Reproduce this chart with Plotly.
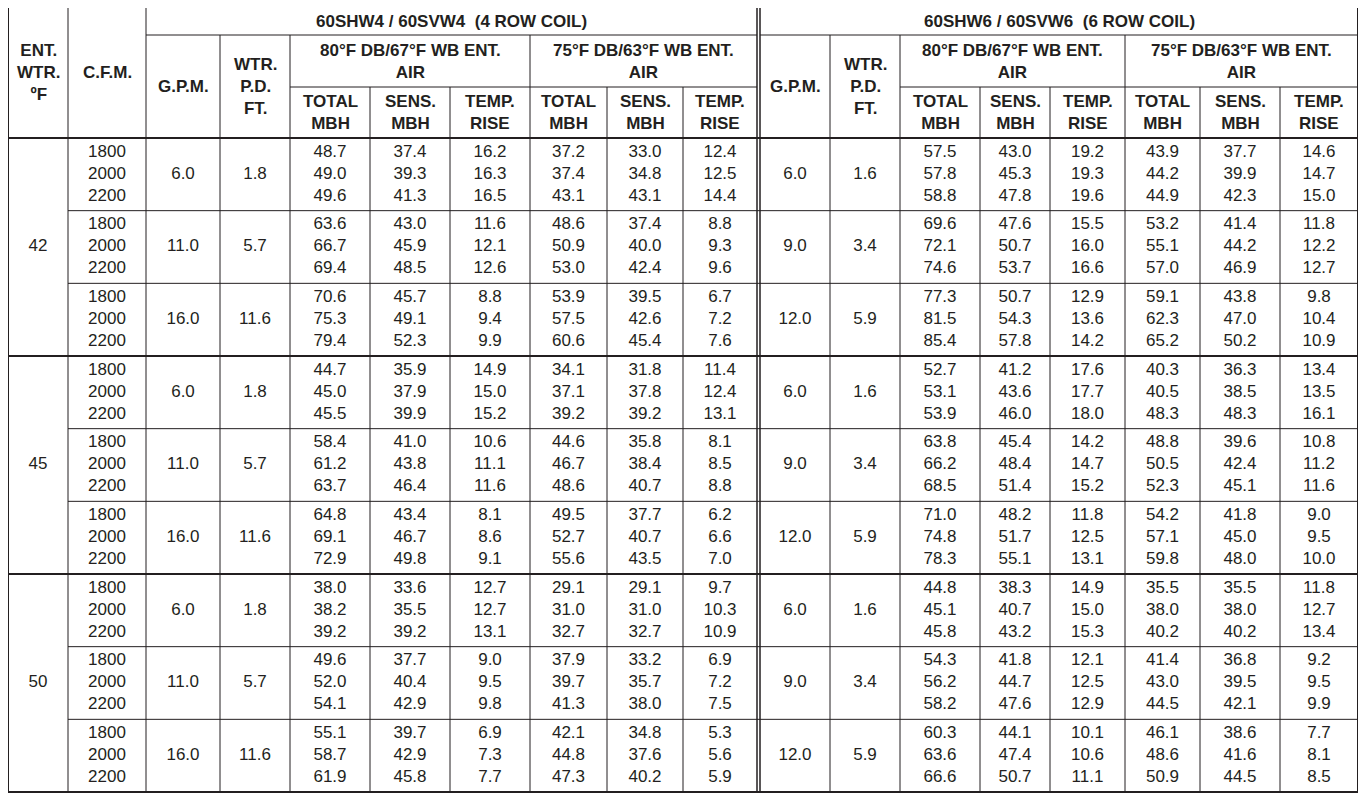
import plotly.graph_objects as go

ent_wtr = ["42", "45", "50"]
cfm = ["1800", "2000", "2200"]
gpm4 = ["6.0", "11.0", "16.0"]
pd4 = ["1.8", "5.7", "11.6"]
gpm6 = ["6.0", "9.0", "12.0"]
pd6 = ["1.6", "3.4", "5.9"]
sub_heads = ["TOTAL<br>MBH", "SENS.<br>MBH", "TEMP.<br>RISE"]

# 4 row coil: TOTAL, SENS, TEMP (80/67) then TOTAL, SENS, TEMP (75/63); 27 rows
row4 = [
    [48.7, 37.4, 16.2, 37.2, 33.0, 12.4], [49.0, 39.3, 16.3, 37.4, 34.8, 12.5], [49.6, 41.3, 16.5, 43.1, 43.1, 14.4],
    [63.6, 43.0, 11.6, 48.6, 37.4, 8.8], [66.7, 45.9, 12.1, 50.9, 40.0, 9.3], [69.4, 48.5, 12.6, 53.0, 42.4, 9.6],
    [70.6, 45.7, 8.8, 53.9, 39.5, 6.7], [75.3, 49.1, 9.4, 57.5, 42.6, 7.2], [79.4, 52.3, 9.9, 60.6, 45.4, 7.6],
    [44.7, 35.9, 14.9, 34.1, 31.8, 11.4], [45.0, 37.9, 15.0, 37.1, 37.8, 12.4], [45.5, 39.9, 15.2, 39.2, 39.2, 13.1],
    [58.4, 41.0, 10.6, 44.6, 35.8, 8.1], [61.2, 43.8, 11.1, 46.7, 38.4, 8.5], [63.7, 46.4, 11.6, 48.6, 40.7, 8.8],
    [64.8, 43.4, 8.1, 49.5, 37.7, 6.2], [69.1, 46.7, 8.6, 52.7, 40.7, 6.6], [72.9, 49.8, 9.1, 55.6, 43.5, 7.0],
    [38.0, 33.6, 12.7, 29.1, 29.1, 9.7], [38.2, 35.5, 12.7, 31.0, 31.0, 10.3], [39.2, 39.2, 13.1, 32.7, 32.7, 10.9],
    [49.6, 37.7, 9.0, 37.9, 33.2, 6.9], [52.0, 40.4, 9.5, 39.7, 35.7, 7.2], [54.1, 42.9, 9.8, 41.3, 38.0, 7.5],
    [55.1, 39.7, 6.9, 42.1, 34.8, 5.3], [58.7, 42.9, 7.3, 44.8, 37.6, 5.6], [61.9, 45.8, 7.7, 47.3, 40.2, 5.9],
]
# 6 row coil
row6 = [
    [57.5, 43.0, 19.2, 43.9, 37.7, 14.6], [57.8, 45.3, 19.3, 44.2, 39.9, 14.7], [58.8, 47.8, 19.6, 44.9, 42.3, 15.0],
    [69.6, 47.6, 15.5, 53.2, 41.4, 11.8], [72.1, 50.7, 16.0, 55.1, 44.2, 12.2], [74.6, 53.7, 16.6, 57.0, 46.9, 12.7],
    [77.3, 50.7, 12.9, 59.1, 43.8, 9.8], [81.5, 54.3, 13.6, 62.3, 47.0, 10.4], [85.4, 57.8, 14.2, 65.2, 50.2, 10.9],
    [52.7, 41.2, 17.6, 40.3, 36.3, 13.4], [53.1, 43.6, 17.7, 40.5, 38.5, 13.5], [53.9, 46.0, 18.0, 48.3, 48.3, 16.1],
    [63.8, 45.4, 14.2, 48.8, 39.6, 10.8], [66.2, 48.4, 14.7, 50.5, 42.4, 11.2], [68.5, 51.4, 15.2, 52.3, 45.1, 11.6],
    [71.0, 48.2, 11.8, 54.2, 41.8, 9.0], [74.8, 51.7, 12.5, 57.1, 45.0, 9.5], [78.3, 55.1, 13.1, 59.8, 48.0, 10.0],
    [44.8, 38.3, 14.9, 35.5, 35.5, 11.8], [45.1, 40.7, 15.0, 38.0, 38.0, 12.7], [45.8, 43.2, 15.3, 40.2, 40.2, 13.4],
    [54.3, 41.8, 12.1, 41.4, 36.8, 9.2], [56.2, 44.7, 12.5, 43.0, 39.5, 9.5], [58.2, 47.6, 12.9, 44.5, 42.1, 9.9],
    [60.3, 44.1, 10.1, 46.1, 38.6, 7.7], [63.6, 47.4, 10.6, 48.6, 41.6, 8.1], [66.6, 50.7, 11.1, 50.9, 44.5, 8.5],
]

INK = "#231f20"
FONT = "Liberation Sans, Arial, sans-serif"

# column edges (pixel units on the axes)
xs = [8, 68, 146, 220, 290, 370, 450, 530, 607, 683, 757,
      760, 830, 900, 980, 1050, 1125, 1200, 1280, 1358]
y_top, y_r1, y_r2, y_hb, y_bot = 7, 35, 87, 138, 792
blk = (y_bot - y_hb) / 9
yb = [y_hb + i * blk for i in range(10)]

def mid(a, b):
    return (xs[a] + xs[b]) / 2

cols4 = [mid(i, i + 1) for i in range(4, 10)]
cols6 = [mid(i, i + 1) for i in range(13, 19)]

fig = go.Figure()

# body text
tx, ty, tt = [], [], []
for r in range(27):
    b, k = divmod(r, 3)
    y = yb[b] + blk / 2 + (k - 1) * 22
    tx.append(mid(1, 2)); ty.append(y); tt.append(cfm[k])
    for c in range(6):
        tx.append(cols4[c]); ty.append(y); tt.append(f"{row4[r][c]:.1f}")
        tx.append(cols6[c]); ty.append(y); tt.append(f"{row6[r][c]:.1f}")
for b in range(9):
    y = yb[b] + blk / 2
    g = b % 3
    tx += [mid(2, 3), mid(3, 4), mid(11, 12), mid(12, 13)]
    ty += [y] * 4
    tt += [gpm4[g], pd4[g], gpm6[g], pd6[g]]
for i, e in enumerate(ent_wtr):
    tx.append(mid(0, 1)); ty.append((yb[3 * i] + yb[3 * i + 3]) / 2); tt.append(e)

fig.add_trace(go.Scatter(x=tx, y=ty, text=tt, mode="text", hoverinfo="skip",
                         textfont=dict(family=FONT, size=17, color=INK)))

ann = []
def head(x, y, s):
    ann.append(dict(x=x, y=y, text=f"<b>{s}</b>", showarrow=False, xref="x", yref="y",
                    font=dict(family=FONT, size=17, color=INK)))

head(mid(0, 1), (y_top + y_hb) / 2, "ENT.<br>WTR.<br>ºF")
head(mid(1, 2), (y_top + y_hb) / 2, "C.F.M.")
for off, name in [(0, "60SHW4 / 60SVW4  (4 ROW COIL)"), (9, "60SHW6 / 60SVW6  (6 ROW COIL)")]:
    a = 2 + off
    head((xs[a] + xs[a + 8]) / 2, (y_top + y_r1) / 2, name)
    head(mid(a, a + 1), (y_r1 + y_hb) / 2, "G.P.M.")
    head(mid(a + 1, a + 2), (y_r1 + y_hb) / 2, "WTR.<br>P.D.<br>FT.")
    head((xs[a + 2] + xs[a + 5]) / 2, (y_r1 + y_r2) / 2, "80°F DB/67°F WB ENT.<br>AIR")
    head((xs[a + 5] + xs[a + 8]) / 2, (y_r1 + y_r2) / 2, "75°F DB/63°F WB ENT.<br>AIR")
    for j in range(6):
        head(mid(a + 2 + j, a + 3 + j), (y_r2 + y_hb) / 2, sub_heads[j % 3])

shapes = []
def line(x0, y0, x1, y1, w=1):
    shapes.append(dict(type="line", x0=x0, y0=y0, x1=x1, y1=y1, xref="x", yref="y",
                       line=dict(color=INK, width=w)))

# outer frame
shapes.append(dict(type="rect", x0=xs[0], y0=y_top, x1=xs[-1], y1=y_bot, xref="x", yref="y",
                   line=dict(color=INK, width=2)))
# header lines
for off in (0, 9):
    a = 2 + off
    line(xs[a], y_r1, xs[a + 8], y_r1)
    line(xs[a + 2], y_r2, xs[a + 8], y_r2)
    for j in (a + 1, a + 2, a + 5):
        line(xs[j], y_r1, xs[j], y_bot)
    for j in (a + 3, a + 4, a + 6, a + 7):
        line(xs[j], y_r2, xs[j], y_bot)
line(xs[1], y_top, xs[1], y_bot)
line(xs[2], y_top, xs[2], y_bot)
line(xs[10], y_top, xs[10], y_bot, 1.5)
line(xs[11], y_top, xs[11], y_bot, 1.5)
line(xs[0], y_hb, xs[-1], y_hb, 2)
for b in range(1, 9):
    if b % 3 == 0:
        line(xs[0], yb[b], xs[-1], yb[b], 2)
    else:
        line(xs[1], yb[b], xs[-1], yb[b])

# page body has an 8px margin: size the figure so axis units equal screen pixels
fig.update_layout(
    width=1352, height=786, margin=dict(l=0, r=0, t=0, b=0),
    paper_bgcolor="white", plot_bgcolor="white", showlegend=False,
    xaxis=dict(range=[8, 1360], visible=False, fixedrange=True),
    yaxis=dict(range=[794, 8], visible=False, fixedrange=True),
    shapes=shapes, annotations=ann,
)
fig.write_html("out.html")
